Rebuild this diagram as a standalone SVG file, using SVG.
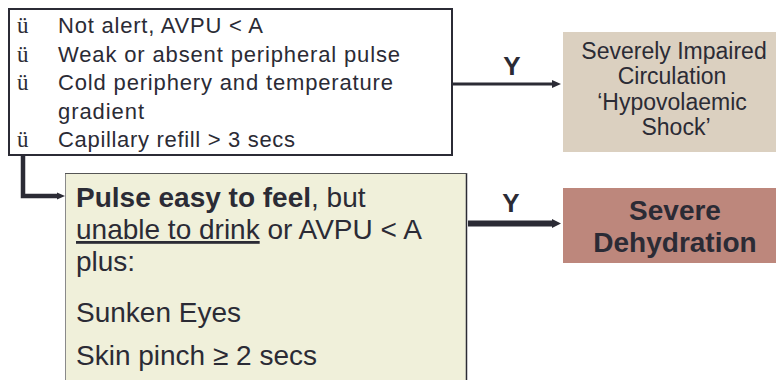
<svg xmlns="http://www.w3.org/2000/svg" width="777" height="380" viewBox="0 0 777 380">
<defs>
<style>
.t{font-family:"Liberation Sans",Arial,sans-serif;fill:#2b2b35}
.s22{font-size:22px}
.s23{font-size:23px}
.s28{font-size:28px}
.b{font-weight:bold}
.bul{font-family:"Liberation Serif","Times New Roman",serif;font-size:23px;fill:#2b2b35}
.ln{fill:none;stroke:#2b2b35}
</style>
<marker id="ah" markerUnits="userSpaceOnUse" markerWidth="10" markerHeight="10" refX="0" refY="5" orient="auto" overflow="visible">
<path d="M0,1 L9,5 L0,9 z" fill="#2b2b35"/>
</marker>
</defs>
<rect width="777" height="380" fill="#ffffff"/>
<g id="connectors">
<line class="ln" x1="453" y1="84" x2="552" y2="84" stroke-width="3" marker-end="url(#ah)"/>
<line class="ln" x1="468" y1="223.5" x2="553" y2="223.5" stroke-width="6"/>
<path d="M552,219 L561,223.5 L552,228 z" fill="#2b2b35"/>
<path class="ln" d="M23,155 V196 H58" stroke-width="4.5"/>
<path d="M57,192.5 L65,196 L57,199.5 z" fill="#2b2b35"/>
<text class="t b" x="512" y="75" font-size="26" text-anchor="middle">Y</text>
<text class="t b" x="511" y="212" font-size="26" text-anchor="middle">Y</text>
</g>
<g id="criteria-box">
<rect x="9" y="9" width="443" height="146" fill="#ffffff" stroke="#2b2b35" stroke-width="2"/>
<text class="bul" x="17" y="33">ü</text>
<text class="bul" x="17" y="61.5">ü</text>
<text class="bul" x="17" y="90">ü</text>
<text class="bul" x="17" y="147">ü</text>
<text class="t s22" x="58" y="33" textLength="205" lengthAdjust="spacing">Not alert, AVPU &lt; A</text>
<text class="t s22" x="58" y="61.5" textLength="342" lengthAdjust="spacing">Weak or absent peripheral pulse</text>
<text class="t s22" x="58" y="90" textLength="335" lengthAdjust="spacing">Cold periphery and temperature</text>
<text class="t s22" x="58" y="118.5" textLength="86" lengthAdjust="spacing">gradient</text>
<text class="t s22" x="58" y="147" textLength="237" lengthAdjust="spacing">Capillary refill &gt; 3 secs</text>
</g>
<g id="shock-box">
<rect x="563" y="32" width="213" height="120" fill="#dbd0c0"/>
<text class="t s23" x="674" y="58.5" text-anchor="middle">Severely Impaired</text>
<text class="t s23" x="672" y="84" text-anchor="middle">Circulation</text>
<text class="t s23" x="672" y="109.5" text-anchor="middle">‘Hypovolaemic</text>
<text class="t s23" x="676" y="135" text-anchor="middle">Shock’</text>
</g>
<g id="dehydration-criteria-box">
<rect x="65.5" y="173.5" width="401" height="220" fill="#f0f0da" stroke="#8a8a8a" stroke-width="1"/>
<line x1="466.5" y1="173" x2="466.5" y2="380" stroke="#2b2b35" stroke-width="1.5"/>
<line x1="65" y1="173.5" x2="467" y2="173.5" stroke="#555" stroke-width="1"/>
<text class="t s28" x="76" y="207"><tspan class="b">Pulse easy to feel</tspan>, but</text>
<text class="t s28" x="76" y="239"><tspan text-decoration="underline">unable to drink</tspan> or AVPU &lt; A</text>
<text class="t s28" x="76" y="271">plus:</text>
<text class="t s28" x="76" y="322">Sunken Eyes</text>
<text class="t s28" x="76" y="365">Skin pinch ≥ 2 secs</text>
</g>
<g id="severe-dehydration-box">
<rect x="563" y="188" width="213" height="75" fill="#bd877c"/>
<text class="t s28 b" x="675" y="220" text-anchor="middle">Severe</text>
<text class="t s28 b" x="675" y="252" text-anchor="middle">Dehydration</text>
</g>
</svg>
